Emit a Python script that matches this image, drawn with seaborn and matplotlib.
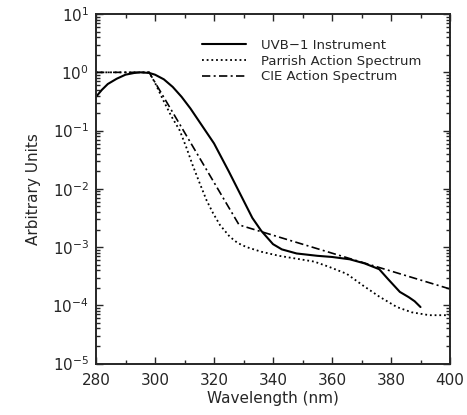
import numpy as np
import pandas as pd
import matplotlib
matplotlib.use("Agg")
import matplotlib.pyplot as plt
import matplotlib.ticker as mticker
import seaborn as sns

# ---- data (values are log10 of arbitrary units) ----
uvb_wl = [280, 282, 284, 287, 290, 293, 295, 298, 300, 303, 306, 309, 312, 316,
          320, 325, 330, 333, 336, 340, 343, 348, 355, 360, 366, 371, 376, 379,
          383, 386, 388, 390]
uvb_log = [-0.42, -0.30, -0.20, -0.11, -0.04, -0.01, 0.0, -0.01, -0.04, -0.12,
           -0.25, -0.42, -0.62, -0.92, -1.22, -1.70, -2.20, -2.50, -2.72, -2.95,
           -3.04, -3.11, -3.15, -3.17, -3.21, -3.28, -3.38, -3.55, -3.77, -3.86,
           -3.93, -4.03]

parrish_wl = [280, 298, 300, 302.8, 305.5, 308.4, 310.7, 312.8, 315.2, 317.5,
              319.7, 322, 325.3, 328, 331, 336, 342, 348, 354, 359, 365, 370.5,
              376, 382, 387, 393, 400]
parrish_log = [0.0, 0.0, -0.18, -0.48, -0.75, -1.0, -1.3, -1.6, -1.91, -2.2,
               -2.42, -2.62, -2.82, -2.93, -3.0, -3.08, -3.15, -3.2, -3.25,
               -3.34, -3.46, -3.66, -3.85, -4.03, -4.12, -4.17, -4.17]

cie_wl = [280, 298, 328.5, 400]
cie_log = [0.0, 0.0, -2.62, -3.72]

labels = ["UVB\u22121 Instrument", "Parrish Action Spectrum", "CIE Action Spectrum"]
x_ticks = [280, 300, 320, 340, 360, 380, 400]
y_ticks = [1e-5, 1e-4, 1e-3, 1e-2, 1e-1, 1e0, 1e1]

df = pd.concat([
    pd.DataFrame({"wl": uvb_wl, "val": np.power(10.0, uvb_log), "series": labels[0]}),
    pd.DataFrame({"wl": parrish_wl, "val": np.power(10.0, parrish_log), "series": labels[1]}),
    pd.DataFrame({"wl": cie_wl, "val": np.power(10.0, cie_log), "series": labels[2]}),
])

sns.set_style("ticks")
plt.rcParams["font.family"] = ["DejaVu Sans"]
plt.rcParams["mathtext.default"] = "regular"

fig = plt.figure(figsize=(4.67, 4.15), dpi=100)
ax = fig.add_axes([0.2056, 0.124, 0.758, 0.842])

styles = ["-", (0, (1.0, 1.6)), (0, (5, 2, 1.2, 2))]
widths = [1.5, 1.3, 1.2]
for lab, ls, lw in zip(labels, styles, widths):
    sns.lineplot(data=df[df["series"] == lab], x="wl", y="val", ax=ax,
                 color="black", linestyle=ls, linewidth=lw, label=lab,
                 estimator=None, sort=True)

ax.set_yscale("log")
ax.set_xlim(280, 400)
ax.set_ylim(1e-5, 1e1)
ax.xaxis.set_major_locator(mticker.FixedLocator(x_ticks))
ax.xaxis.set_minor_locator(mticker.MultipleLocator(10))
ax.yaxis.set_major_locator(mticker.FixedLocator(y_ticks))
ax.yaxis.set_major_formatter(mticker.LogFormatterSciNotation())
ax.yaxis.set_minor_locator(mticker.LogLocator(base=10, subs=np.arange(2, 10), numticks=20))
ax.yaxis.set_minor_formatter(mticker.NullFormatter())
ax.xaxis.set_minor_formatter(mticker.NullFormatter())

ax.tick_params(which="both", direction="in", top=True, right=True, width=1.0)
ax.tick_params(which="major", length=5, labelsize=11)
ax.tick_params(axis="x", which="major", pad=7)
ax.tick_params(axis="y", which="major", pad=5)
ax.tick_params(which="minor", length=3, labelleft=False, labelbottom=False)
for sp in ax.spines.values():
    sp.set_linewidth(1.4)
    sp.set_visible(True)

ax.set_xlabel("Wavelength (nm)", fontsize=11, labelpad=2)
ax.set_ylabel("Arbitrary Units", fontsize=11, labelpad=8)

leg = ax.legend(loc="upper right", bbox_to_anchor=(0.935, 0.945), frameon=False,
                fontsize=9.5, handlelength=3.3, handletextpad=1.2,
                labelspacing=0.22, borderaxespad=0)

fig.savefig("out.png", dpi=100)
